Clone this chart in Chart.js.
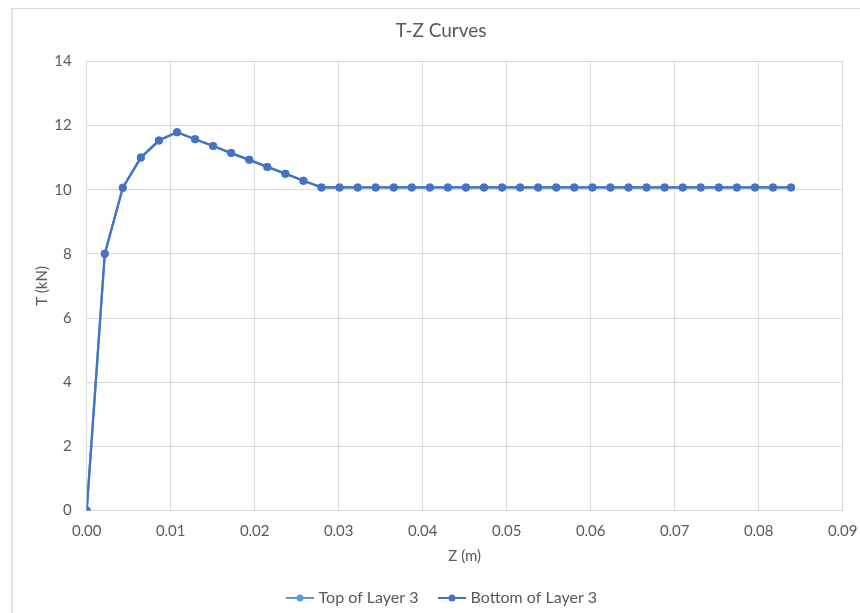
<!DOCTYPE html>
<html>
<head>
<meta charset="utf-8">
<script src="https://cdn.jsdelivr.net/npm/chart.js@4"></script>
<style>
  html, body { margin: 0; padding: 0; background: #fff; overflow: hidden; }
  #frame {
    position: absolute; left: 11px; top: 8px; width: 900px; height: 700px;
    border-top: 1px solid #d9d9d9; border-left: 2px solid #e3e3e3;
  }
  #tzChart { position: absolute; left: 0; top: 0; }
</style>
</head>
<body>
<div id="frame"></div>
<canvas id="tzChart" width="860" height="613"></canvas>
<script>
// displacement Z (m)
const zValues = [
  0, 0.00215, 0.0043, 0.00645, 0.0086, 0.01075, 0.0129, 0.01505, 0.0172, 0.01935,
  0.0215, 0.02365, 0.0258, 0.02795, 0.0301, 0.03225, 0.0344, 0.03655, 0.0387, 0.04085,
  0.043, 0.04515, 0.0473, 0.04945, 0.0516, 0.05375, 0.0559, 0.05805, 0.0602, 0.06235,
  0.0645, 0.06665, 0.0688, 0.07095, 0.0731, 0.07525, 0.0774, 0.07955, 0.0817, 0.08385,
];
// shaft friction T (kN)
const tTop = [
  0, 8.0, 10.06, 11.0, 11.53, 11.79, 11.57, 11.36, 11.14, 10.93,
  10.71, 10.5, 10.28, 10.07, 10.07, 10.07, 10.07, 10.07, 10.07, 10.07,
  10.07, 10.07, 10.07, 10.07, 10.07, 10.07, 10.07, 10.07, 10.07, 10.07,
  10.07, 10.07, 10.07, 10.07, 10.07, 10.07, 10.07, 10.07, 10.07, 10.07,
];
const tBottom = [
  0, 8.0, 10.06, 11.0, 11.53, 11.79, 11.57, 11.36, 11.14, 10.93,
  10.71, 10.5, 10.28, 10.07, 10.07, 10.07, 10.07, 10.07, 10.07, 10.07,
  10.07, 10.07, 10.07, 10.07, 10.07, 10.07, 10.07, 10.07, 10.07, 10.07,
  10.07, 10.07, 10.07, 10.07, 10.07, 10.07, 10.07, 10.07, 10.07, 10.07,
];
const seriesNames = ['Top of Layer 3', 'Bottom of Layer 3'];
const seriesColors = ['#5b9bd5', '#4472c4'];
const chartTitle = 'T-Z Curves';

const FONT = 'Lato, "Open Sans", sans-serif';
const TEXT = '#595959';
const GRID = '#d9d9d9';

const toPoints = (ys) => zValues.map((z, i) => ({ x: z, y: ys[i] }));

// small line-with-marker swatch for the legend
function swatch(color) {
  const c = document.createElement('canvas');
  c.width = 28; c.height = 10;
  const g = c.getContext('2d');
  g.strokeStyle = color; g.lineWidth = 2;
  g.beginPath(); g.moveTo(0, 5); g.lineTo(28, 5); g.stroke();
  g.fillStyle = color;
  g.beginPath(); g.arc(14, 5, 3.5, 0, Math.PI * 2); g.fill();
  return c;
}

// title and legend are centred on the whole frame, not just the plot box
const frameCentering = {
  id: 'frameCentering',
  afterLayout(chart) {
    chart.legend.left += 22;
    chart.legend.right += 22;
  },
  afterDraw(chart) {
    const c = chart.ctx;
    c.save();
    c.font = '19px ' + FONT;
    c.fillStyle = TEXT;
    c.textAlign = 'center';
    c.textBaseline = 'middle';
    c.fillText(chartTitle, 441, 31);
    c.restore();
  },
};

const ctx = document.getElementById('tzChart').getContext('2d');
const tzChart = new Chart(ctx, {
  type: 'scatter',
  data: {
    datasets: [tTop, tBottom].map((ys, i) => ({
      label: seriesNames[i],
      data: toPoints(ys),
      order: 1 - i,
      showLine: true,
      borderColor: seriesColors[i],
      backgroundColor: seriesColors[i],
      borderWidth: 2.25,
      pointRadius: 4,
      pointBorderWidth: 0,
      pointHoverRadius: 4,
    })),
  },
  plugins: [frameCentering],
  options: {
    responsive: false,
    animation: false,
    layout: { padding: { top: 61.3, left: 0, right: 17.3, bottom: -3 } },
    plugins: {
      title: { display: false },
      legend: {
        position: 'bottom',
        labels: {
          color: TEXT,
          font: { family: FONT, size: 16 },
          usePointStyle: true,
          pointStyleWidth: 21,
          padding: 23,
          generateLabels: (chart) =>
            chart.data.datasets.map((ds, i) => ({
              text: ds.label,
              fontColor: TEXT,
              pointStyle: swatch(seriesColors[i]),
              datasetIndex: i,
              hidden: false,
              lineWidth: 0,
            })),
        },
      },
      tooltip: { enabled: false },
    },
    scales: {
      x: {
        type: 'linear',
        min: 0,
        max: 0.09,
        afterFit: (scale) => {
          scale.height = 56.4;
          scale.paddingLeft = 0;
          scale.paddingRight = 0;
        },
        ticks: {
          stepSize: 0.01,
          color: TEXT,
          padding: 12,
          font: { family: FONT, size: 15 },
          callback: (v) => v.toFixed(2),
        },
        grid: { color: GRID, lineWidth: 1, drawTicks: false },
        border: { color: GRID },
        title: {
          display: true,
          text: 'Z (m)',
          color: TEXT,
          font: { family: FONT, size: 15 },
          padding: { top: 0, bottom: 1.7 },
        },
      },
      y: {
        min: 0,
        max: 14,
        afterFit: (scale) => {
          scale.width = 86.7;
          scale.paddingTop = 0;
          scale.paddingBottom = 0;
        },
        ticks: {
          stepSize: 2,
          color: TEXT,
          padding: 15,
          font: { family: FONT, size: 15 },
        },
        grid: { color: GRID, lineWidth: 1, drawTicks: false },
        border: { color: GRID },
        title: {
          display: true,
          text: 'T (kN)',
          color: TEXT,
          font: { family: FONT, size: 15 },
          padding: { top: 33, bottom: 0 },
        },
      },
    },
  },
});
</script>
</body>
</html>
